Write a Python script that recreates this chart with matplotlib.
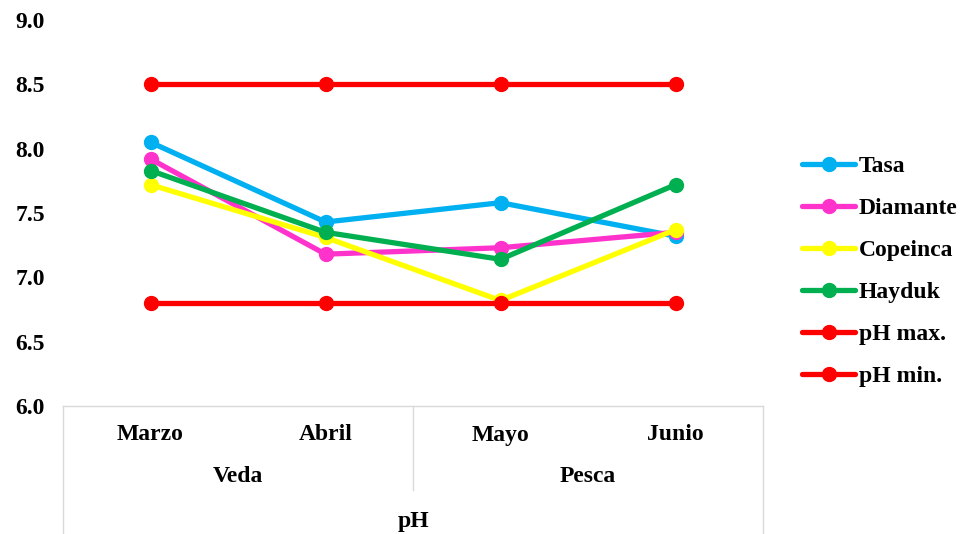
import matplotlib
matplotlib.use("Agg")
import matplotlib.pyplot as plt
import matplotlib.transforms as mtransforms
from matplotlib.lines import Line2D

months = ["Marzo", "Abril", "Mayo", "Junio"]
groups = ["Veda", "Pesca"]
group_span = [(0, 1), (2, 3)]
outer_label = "pH"

tasa = [8.05, 7.43, 7.58, 7.32]
diamante = [7.92, 7.18, 7.23, 7.35]
copeinca = [7.72, 7.31, 6.82, 7.37]
hayduk = [7.83, 7.35, 7.14, 7.72]
ph_max = [8.5, 8.5, 8.5, 8.5]
ph_min = [6.8, 6.8, 6.8, 6.8]

series_names = ["Tasa", "Diamante", "Copeinca", "Hayduk", "pH max.", "pH min."]
series_vals = [tasa, diamante, copeinca, hayduk, ph_max, ph_min]
colors = ["#00B0F0", "#FF33CC", "#FFFF00", "#00B050", "#FF0000", "#FF0000"]

yticks = [6.0, 6.5, 7.0, 7.5, 8.0, 8.5, 9.0]

plt.rcParams['font.family'] = ['Liberation Serif', 'DejaVu Serif']
plt.rcParams['font.weight'] = 'bold'

FS = 17

W, H = 964, 534
fig = plt.figure(figsize=(W / 100, H / 100), dpi=100)
L, R, T, B = 63, 763, 20, 406
ax = fig.add_axes([L / W, 1 - B / H, (R - L) / W, (B - T) / H])

x = list(range(len(months)))
for name, vals, c in zip(series_names, series_vals, colors):
    ax.plot(x, vals, color=c, lw=3.8, marker='o', ms=10, label=name,
            solid_capstyle='round', clip_on=False, zorder=3)

ax.set_xlim(-0.5, len(months) - 0.5)
ax.set_ylim(6.0, 9.0)
ax.set_yticks(yticks)
ax.set_yticklabels([f"{v:.1f}" for v in yticks], fontsize=FS, fontweight='bold')
ax.tick_params(axis='y', length=0, pad=13)
ax.set_xticks([])
for s in ['left', 'right', 'top']:
    ax.spines[s].set_visible(False)
ax.spines['bottom'].set_color('#D9D9D9')
ax.spines['bottom'].set_linewidth(1)

# Multi-level category axis
trans = mtransforms.blended_transform_factory(ax.transData, fig.transFigure)
gc = '#D9D9D9'
def fy(py):
    return 1 - py / H
for xv in [-0.5, len(months) - 0.5]:
    fig.add_artist(Line2D([xv, xv], [fy(B), fy(H)], transform=trans, color=gc, lw=1))
fig.add_artist(Line2D([1.5, 1.5], [fy(B), fy(490)], transform=trans, color=gc, lw=1))

for i, m in enumerate(months):
    fig.text(i, fy(435), m, transform=trans, ha='center', va='center',
             fontsize=FS, fontweight='bold')
for g, (a, b) in zip(groups, group_span):
    fig.text((a + b) / 2, fy(477), g, transform=trans, ha='center', va='center',
             fontsize=FS, fontweight='bold')
fig.text((len(months) - 1) / 2, fy(521), outer_label, transform=trans, ha='center',
         va='center', fontsize=FS, fontweight='bold')

leg = fig.legend(loc='center left', bbox_to_anchor=(802 / W, fy(271.5)), frameon=False,
                 prop={'weight': 'bold', 'size': FS},
                 handlelength=2.25, handletextpad=0.15, labelspacing=0.87,
                 borderaxespad=0, borderpad=0)

fig.savefig("out.png", dpi=100)
